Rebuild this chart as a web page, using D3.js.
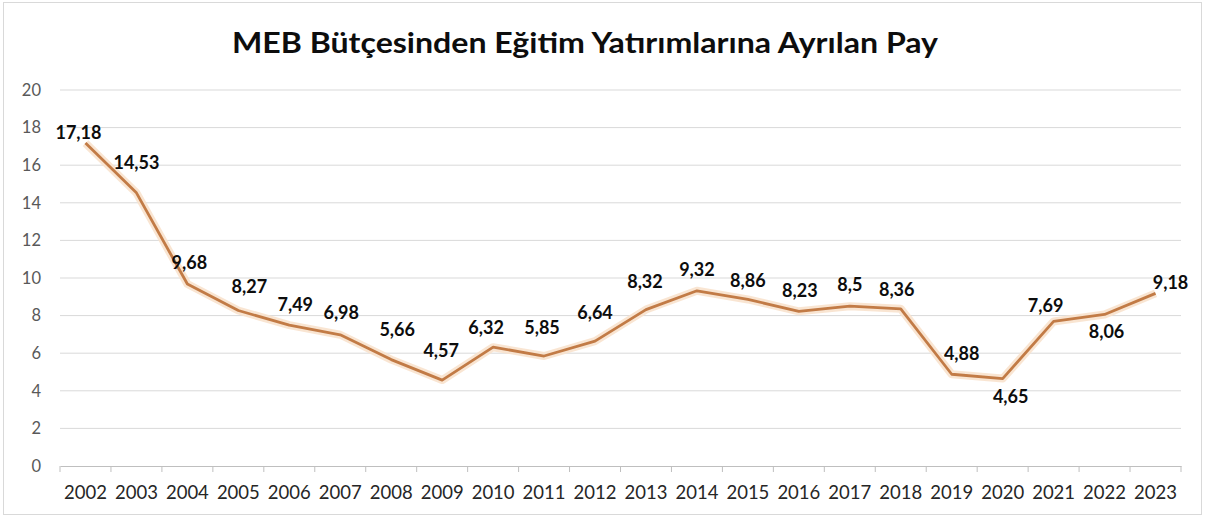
<!DOCTYPE html>
<html><head><meta charset="utf-8">
<script src="https://cdn.jsdelivr.net/npm/d3@7"></script>
<style>body{margin:0;background:#fff;} svg{display:block;}</style>
</head><body>
<svg id="c" width="1205" height="518"></svg>
<script>
const years = ["2002","2003","2004","2005","2006","2007","2008","2009","2010","2011","2012","2013","2014","2015","2016","2017","2018","2019","2020","2021","2022","2023"];
const values = [17.18,14.53,9.68,8.27,7.49,6.98,5.66,4.57,6.32,5.85,6.64,8.32,9.32,8.86,8.23,8.5,8.36,4.88,4.65,7.69,8.06,9.18];
const valueLabels = ["17,18","14,53","9,68","8,27","7,49","6,98","5,66","4,57","6,32","5,85","6,64","8,32","9,32","8,86","8,23","8,5","8,36","4,88","4,65","7,69","8,06","9,18"];
const yTicks = [0,2,4,6,8,10,12,14,16,18,20];
const title = "MEB Bütçesinden Eğitim Yatırımlarına Ayrılan Pay";
// label offsets relative to each point (dx, dy)
const labelOffsets = [[-7,-10],[0,-30],[2,-21],[11,-24],[6,-21],[1,-22],[6,-30],[-1,-30],[-7,-20],[-2,-29],[0,-29],[-1,-28],[0,-21],[0,-19],[1,-21],[0,-22],[-4,-19],[10,-21],[8,18],[-8,-16],[2,17],[15,-11]];

const svg = d3.select("#c");
const font = "Lato, 'Open Sans', sans-serif";
const m = {left:60, right:1181, top:90, bottom:466};

svg.append("rect").attr("x",3.5).attr("y",2.5).attr("width",1198).attr("height",512)
  .attr("fill","#fff").attr("stroke","#d9d9d9");

const x = d3.scaleBand().domain(years).range([m.left, m.right]);
const y = d3.scaleLinear().domain([0,20]).range([m.bottom, m.top]);

// gridlines
svg.append("g").selectAll("line").data(yTicks.filter(t=>t>0)).join("line")
  .attr("x1",m.left).attr("x2",m.right).attr("y1",d=>y(d)).attr("y2",d=>y(d))
  .attr("stroke","#d9d9d9").attr("stroke-width",1);

// y axis labels
const yAxis = svg.append("g").attr("transform",`translate(${m.left},0)`)
  .call(d3.axisLeft(y).tickValues(yTicks).tickSize(0).tickPadding(19));
yAxis.select(".domain").remove();
yAxis.selectAll("text").attr("font-family",font).attr("font-size",16.5).attr("fill","#595959");

// x axis
const xAxis = svg.append("g").attr("transform",`translate(0,${m.bottom})`)
  .call(d3.axisBottom(x).tickSize(0).tickPadding(20));
xAxis.select(".domain").attr("stroke","#bfbfbf");
xAxis.selectAll("text").attr("font-family",font).attr("font-size",18.5).attr("fill","#262626");
svg.append("g").selectAll("line").data(years.map((d,i)=>i).concat([years.length])).join("line")
  .attr("x1",i=>i<years.length? x(years[i]) : m.right).attr("x2",i=>i<years.length? x(years[i]) : m.right)
  .attr("y1",m.bottom).attr("y2",m.bottom+6).attr("stroke","#bfbfbf");

// line
const line = d3.line().x((d,i)=>x(years[i])+x.bandwidth()/2).y(d=>y(d));
svg.append("path").datum(values).attr("d",line).attr("fill","none")
  .attr("stroke","#f8e2cd").attr("stroke-width",8).attr("stroke-linejoin","round").attr("opacity",0.9);
svg.append("path").datum(values).attr("d",line).attr("fill","none")
  .attr("stroke","#c27b46").attr("stroke-width",2.8).attr("stroke-linejoin","round");

// labels
svg.append("g").selectAll("text").data(values).join("text")
  .attr("x",(d,i)=>x(years[i])+x.bandwidth()/2+labelOffsets[i][0])
  .attr("y",(d,i)=>y(d)+labelOffsets[i][1])
  .attr("dy","0.36em").attr("text-anchor","middle")
  .attr("font-family",font).attr("font-weight","bold").attr("font-size",18).attr("fill","#0d0d0d")
  .text((d,i)=>valueLabels[i]);

// title
svg.append("text").attr("x",585).attr("y",53).attr("text-anchor","middle")
  .attr("font-family",font).attr("font-weight","bold").attr("font-size",29).attr("fill","#0d0d0d")
  .attr("textLength",706).attr("lengthAdjust","spacingAndGlyphs")
  .text(title);
</script>
</body></html>
